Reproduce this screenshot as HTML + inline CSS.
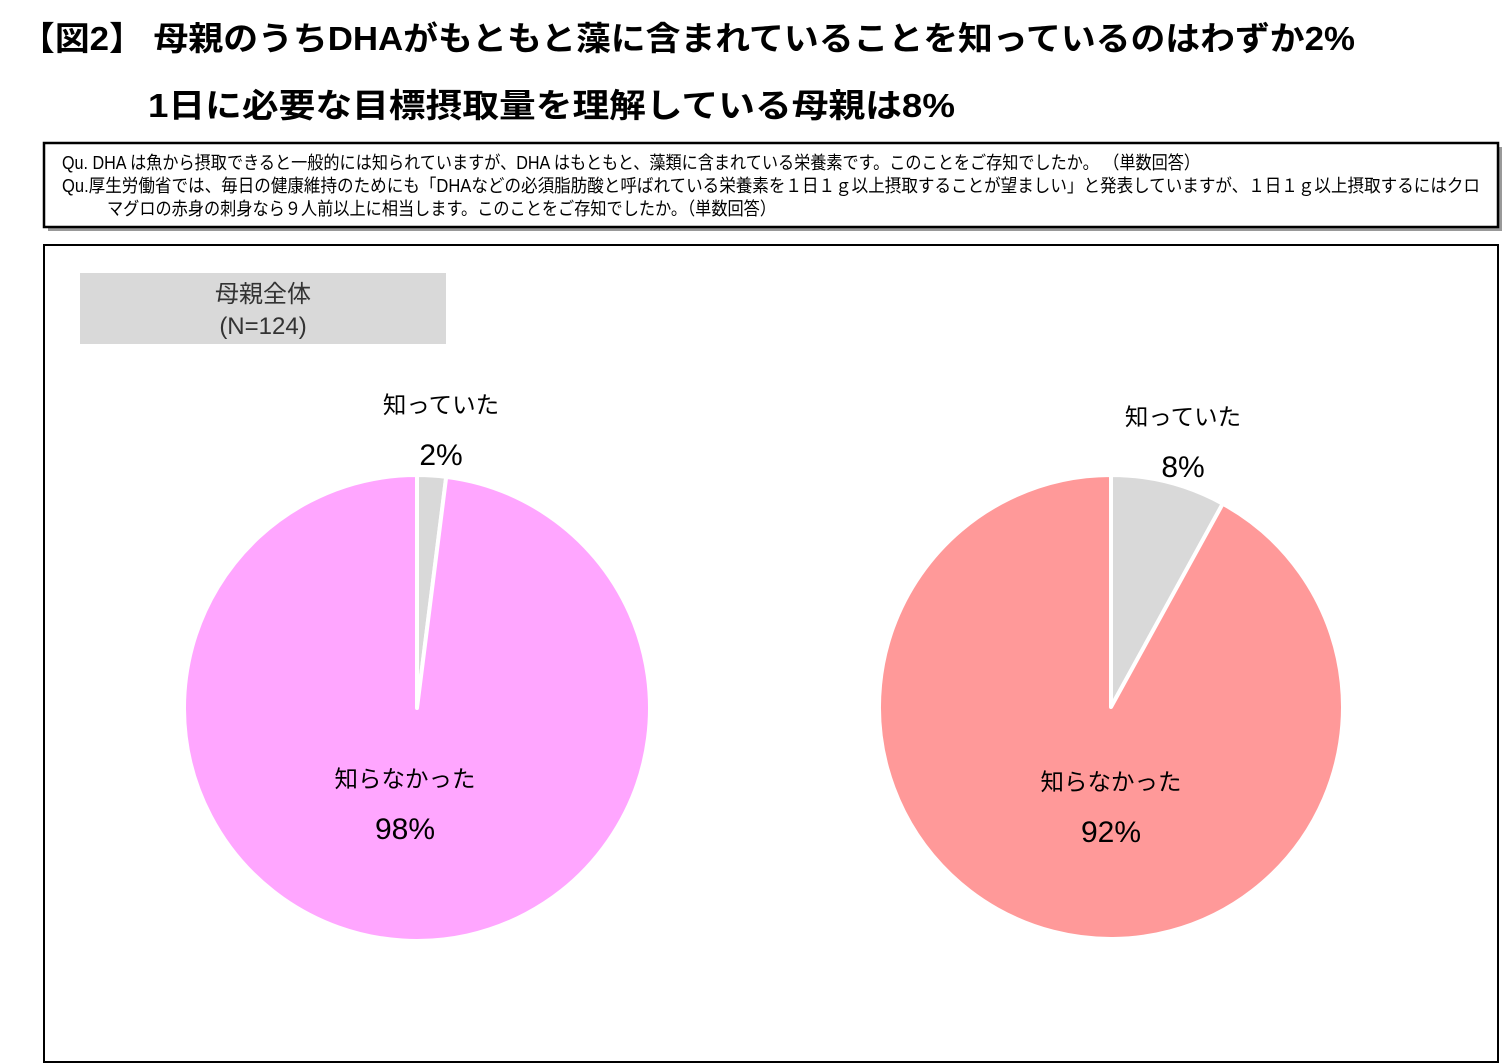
<!DOCTYPE html>
<html><head><meta charset="utf-8"><style>
body{margin:0;background:#fff;}
svg{display:block;font-family:"Liberation Sans","Noto Sans CJK JP",sans-serif;}
</style></head><body>
<svg id="s" width="1504" height="1063" viewBox="0 0 1504 1063">
<text x="20" y="50" font-size="33" font-weight="bold" textLength="1335" lengthAdjust="spacingAndGlyphs">【図2】 母親のうちDHAがもともと藻に含まれていることを知っているのはわずか2%</text>
<text x="148" y="117" font-size="33" font-weight="bold" textLength="807" lengthAdjust="spacingAndGlyphs">1日に必要な目標摂取量を理解している母親は8%</text>
<rect x="48" y="147" width="1454" height="84" fill="#999"/>
<rect x="44" y="143" width="1454" height="84" fill="#fff" stroke="#000" stroke-width="2.5"/>
<text x="62" y="169" font-size="18" textLength="1138" lengthAdjust="spacingAndGlyphs">Qu. DHA は魚から摂取できると一般的には知られていますが、DHA はもともと、藻類に含まれている栄養素です。このことをご存知でしたか。 （単数回答）</text>
<text x="62" y="192" font-size="18" textLength="1418" lengthAdjust="spacingAndGlyphs">Qu.厚生労働省では、毎日の健康維持のためにも「DHAなどの必須脂肪酸と呼ばれている栄養素を１日１ｇ以上摂取することが望ましい」と発表していますが、１日１ｇ以上摂取するにはクロ</text>
<text x="107" y="215" font-size="18" textLength="669" lengthAdjust="spacingAndGlyphs">マグロの赤身の刺身なら９人前以上に相当します。このことをご存知でしたか。（単数回答）</text>
<rect x="44" y="245" width="1454" height="817" fill="#fff" stroke="#000" stroke-width="2"/>
<rect x="80" y="273" width="366" height="71" fill="#d9d9d9"/>
<text x="263" y="302" font-size="24" text-anchor="middle" fill="#333">母親全体</text>
<text x="263" y="334" font-size="24" text-anchor="middle" fill="#333">(N=124)</text>
<g id="pies"></g>
</svg>
<script>
const pieNames=['pie-dha-in-algae','pie-daily-intake'];
const categories=['知っていた','知らなかった'];
const values1=[2,98];
const values2=[8,92];
const seriesValues=[values1,values2];
const pieColors=[['#d9d9d9','#ffa6ff'],['#d9d9d9','#ff9999']];
const centers=[[417,708,233],[1111,707,232]];
const labelPos=[[[441,404],[405,778]],[[1183,416],[1111,781]]];
const NS='http://www.w3.org/2000/svg';
const g=document.getElementById('pies');
function pt(cx,cy,r,frac){const a=frac*2*Math.PI-Math.PI/2;return [cx+r*Math.cos(a),cy+r*Math.sin(a)];}
seriesValues.forEach((vals,pi)=>{
  const [cx,cy,r]=centers[pi];
  const tot=vals.reduce((a,b)=>a+b,0);
  let acc=0;
  vals.forEach((v,i)=>{
    const f0=acc/tot,f1=(acc+v)/tot;acc+=v;
    const p0=pt(cx,cy,r,f0),p1=pt(cx,cy,r,f1);
    const large=(f1-f0)>0.5?1:0;
    const p=document.createElementNS(NS,'path');
    p.setAttribute('d',`M${cx},${cy}L${p0[0]},${p0[1]}A${r},${r} 0 ${large} 1 ${p1[0]},${p1[1]}Z`);
    p.setAttribute('fill',pieColors[pi][i]);
    p.setAttribute('stroke','#fff');
    p.setAttribute('stroke-width','4');
    p.setAttribute('stroke-linejoin','round');
    
    
    g.appendChild(p);
    const [lx,ly]=labelPos[pi][i];
    const t1=document.createElementNS(NS,'text');
    t1.setAttribute('x',lx);t1.setAttribute('y',ly+9);
    t1.setAttribute('font-size','23.5');t1.setAttribute('text-anchor','middle');
    t1.textContent=categories[i];
    
    
    g.appendChild(t1);
    const t2=document.createElementNS(NS,'text');
    t2.setAttribute('x',lx);t2.setAttribute('y',ly+61);
    t2.setAttribute('font-size','30');t2.setAttribute('text-anchor','middle');
    t2.textContent=v+'%';
    
    
    g.appendChild(t2);
  });
});
</script>
</body></html>
